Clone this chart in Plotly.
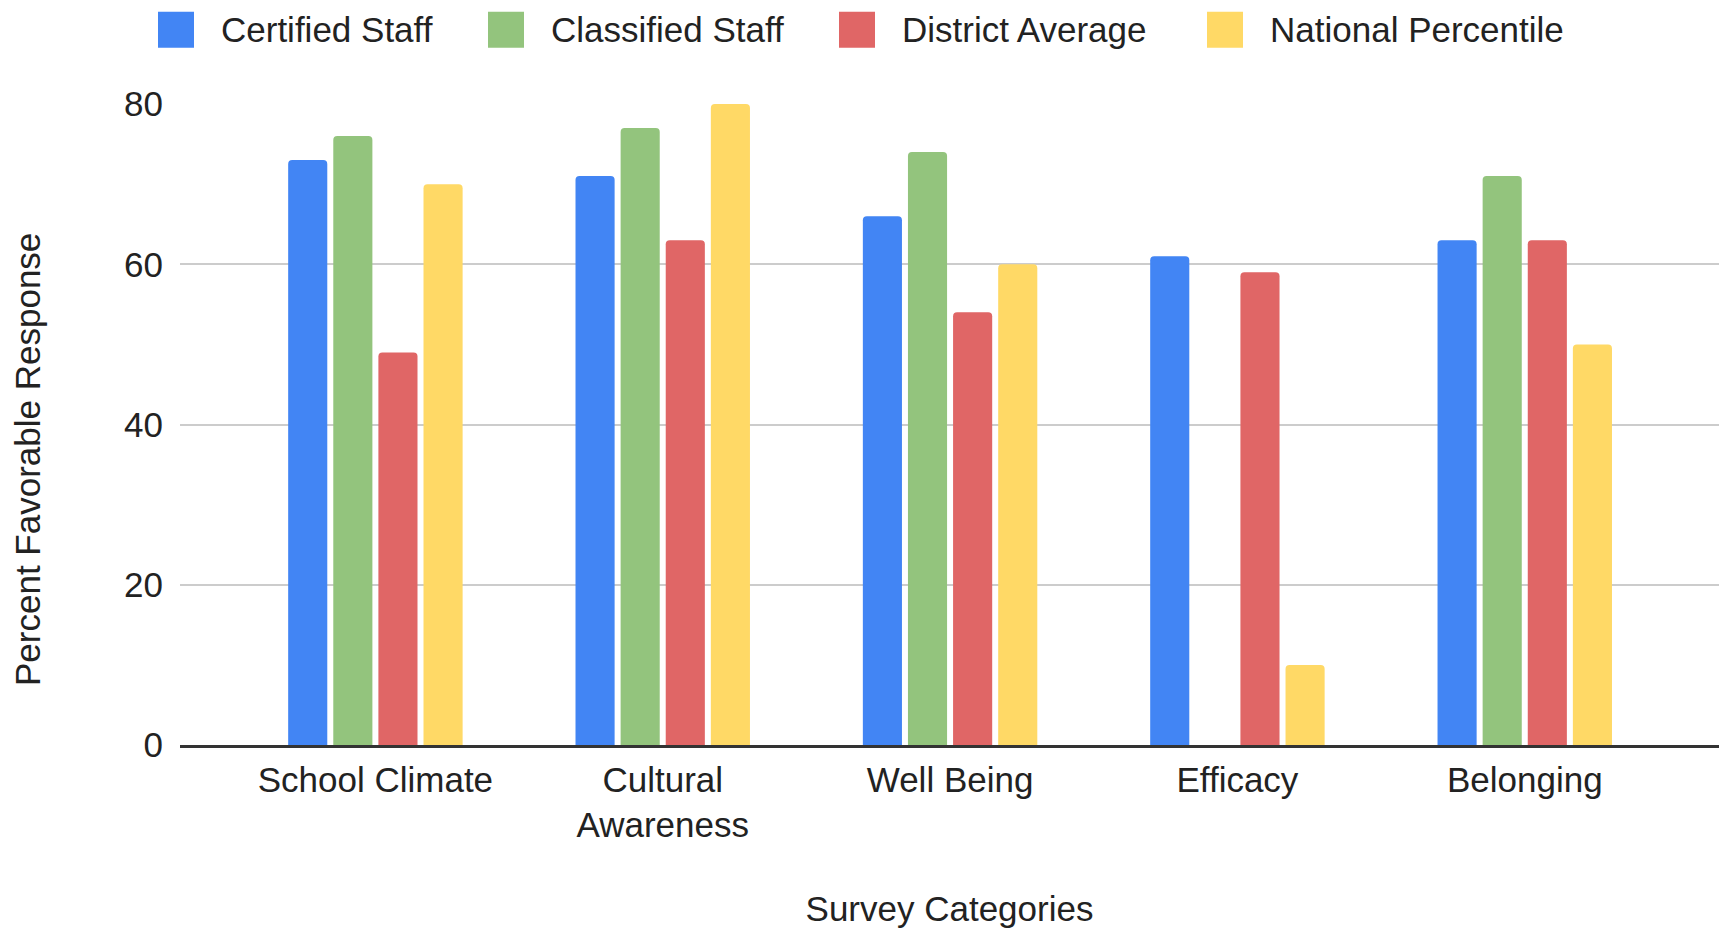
import plotly.graph_objects as go

# Survey results (percent favorable) by category
categories = ["School Climate", "Cultural<br>Awareness", "Well Being", "Efficacy", "Belonging"]
certified_staff = [73, 71, 66, 61, 63]
classified_staff = [76, 77, 74, None, 71]
district_average = [49, 63, 54, 59, 63]
national_percentile = [70, 80, 60, 10, 50]

series_names = ["Certified Staff", "Classified Staff", "District Average", "National Percentile"]
series_values = [certified_staff, classified_staff, district_average, national_percentile]
series_colors = ["#4285F4", "#93C47D", "#E06666", "#FFD966"]

y_ticks = [0, 20, 40, 60, 80]

# Canvas and plot-area geometry (pixels)
W, H = 1719, 930
M_L, M_R, M_T, M_B = 180, 0, 104, 185
PLOT_W = W - M_L - M_R
PLOT_H = H - M_T - M_B

FONT = "Liberation Sans, Arial, Helvetica, sans-serif"
TEXT_COLOR = "#222222"
FS = 35


def px_x(px):
    """Horizontal pixel on the canvas -> paper coordinate."""
    return (px - M_L) / PLOT_W


def px_y(px):
    """Vertical pixel from the canvas top -> paper coordinate."""
    return (H - M_B - px) / PLOT_H


x_pos = list(range(len(categories)))

fig = go.Figure()
for name, vals, color in zip(series_names, series_values, series_colors):
    fig.add_trace(go.Bar(
        x=x_pos, y=vals, name=name,
        marker=dict(color=color, line=dict(width=0)),
        showlegend=False,
    ))

# Legend drawn as swatches with labels across the top
legend_left_px = [158, 488, 839, 1207]
SW = 36
legend_cy = 29.7
shapes = []
annotations = []
for left, name, color in zip(legend_left_px, series_names, series_colors):
    shapes.append(dict(
        type="rect", xref="paper", yref="paper",
        x0=px_x(left), x1=px_x(left + SW),
        y0=px_y(legend_cy + SW / 2), y1=px_y(legend_cy - SW / 2),
        fillcolor=color, line=dict(width=0), layer="above",
    ))
    annotations.append(dict(
        xref="paper", yref="paper", x=px_x(left + SW + 25), y=px_y(legend_cy),
        xanchor="left", yanchor="middle", showarrow=False, text=name,
        font=dict(family=FONT, size=FS, color=TEXT_COLOR),
    ))

# Y-axis title, centred on the chart height
annotations.append(dict(
    xref="paper", yref="paper", x=px_x(27), y=px_y(460),
    xanchor="center", yanchor="middle", showarrow=False, textangle=-90,
    text="Percent Favorable Response",
    font=dict(family=FONT, size=FS, color=TEXT_COLOR),
))

fig.update_layout(
    width=W, height=H, autosize=False,
    margin=dict(l=M_L, r=M_R, t=M_T, b=M_B, pad=0),
    paper_bgcolor="white", plot_bgcolor="white",
    barmode="group", bargap=0.372, bargroupgap=0.133, barcornerradius=4,
    font=dict(family=FONT, size=FS, color=TEXT_COLOR),
    shapes=shapes, annotations=annotations,
    showlegend=False,
)

fig.update_xaxes(
    tickmode="array", tickvals=x_pos, ticktext=categories,
    range=[-0.68, 4.676],
    showgrid=False, zeroline=False,
    showline=True, linecolor="#333333", linewidth=2.5,
    ticks="", ticklabelstandoff=2,
    tickfont=dict(family=FONT, size=FS, color=TEXT_COLOR),
    title=dict(text="Survey Categories", standoff=54,
               font=dict(family=FONT, size=FS, color=TEXT_COLOR)),
    automargin=False,
)

fig.update_yaxes(
    range=[0, 80], tickmode="array", tickvals=y_ticks,
    showgrid=True, gridcolor="#cccccc", gridwidth=2,
    zeroline=False, showline=False, ticks="",
    ticklabelstandoff=16,
    tickfont=dict(family=FONT, size=FS, color=TEXT_COLOR),
    automargin=False,
)

fig.write_html("out.html")
